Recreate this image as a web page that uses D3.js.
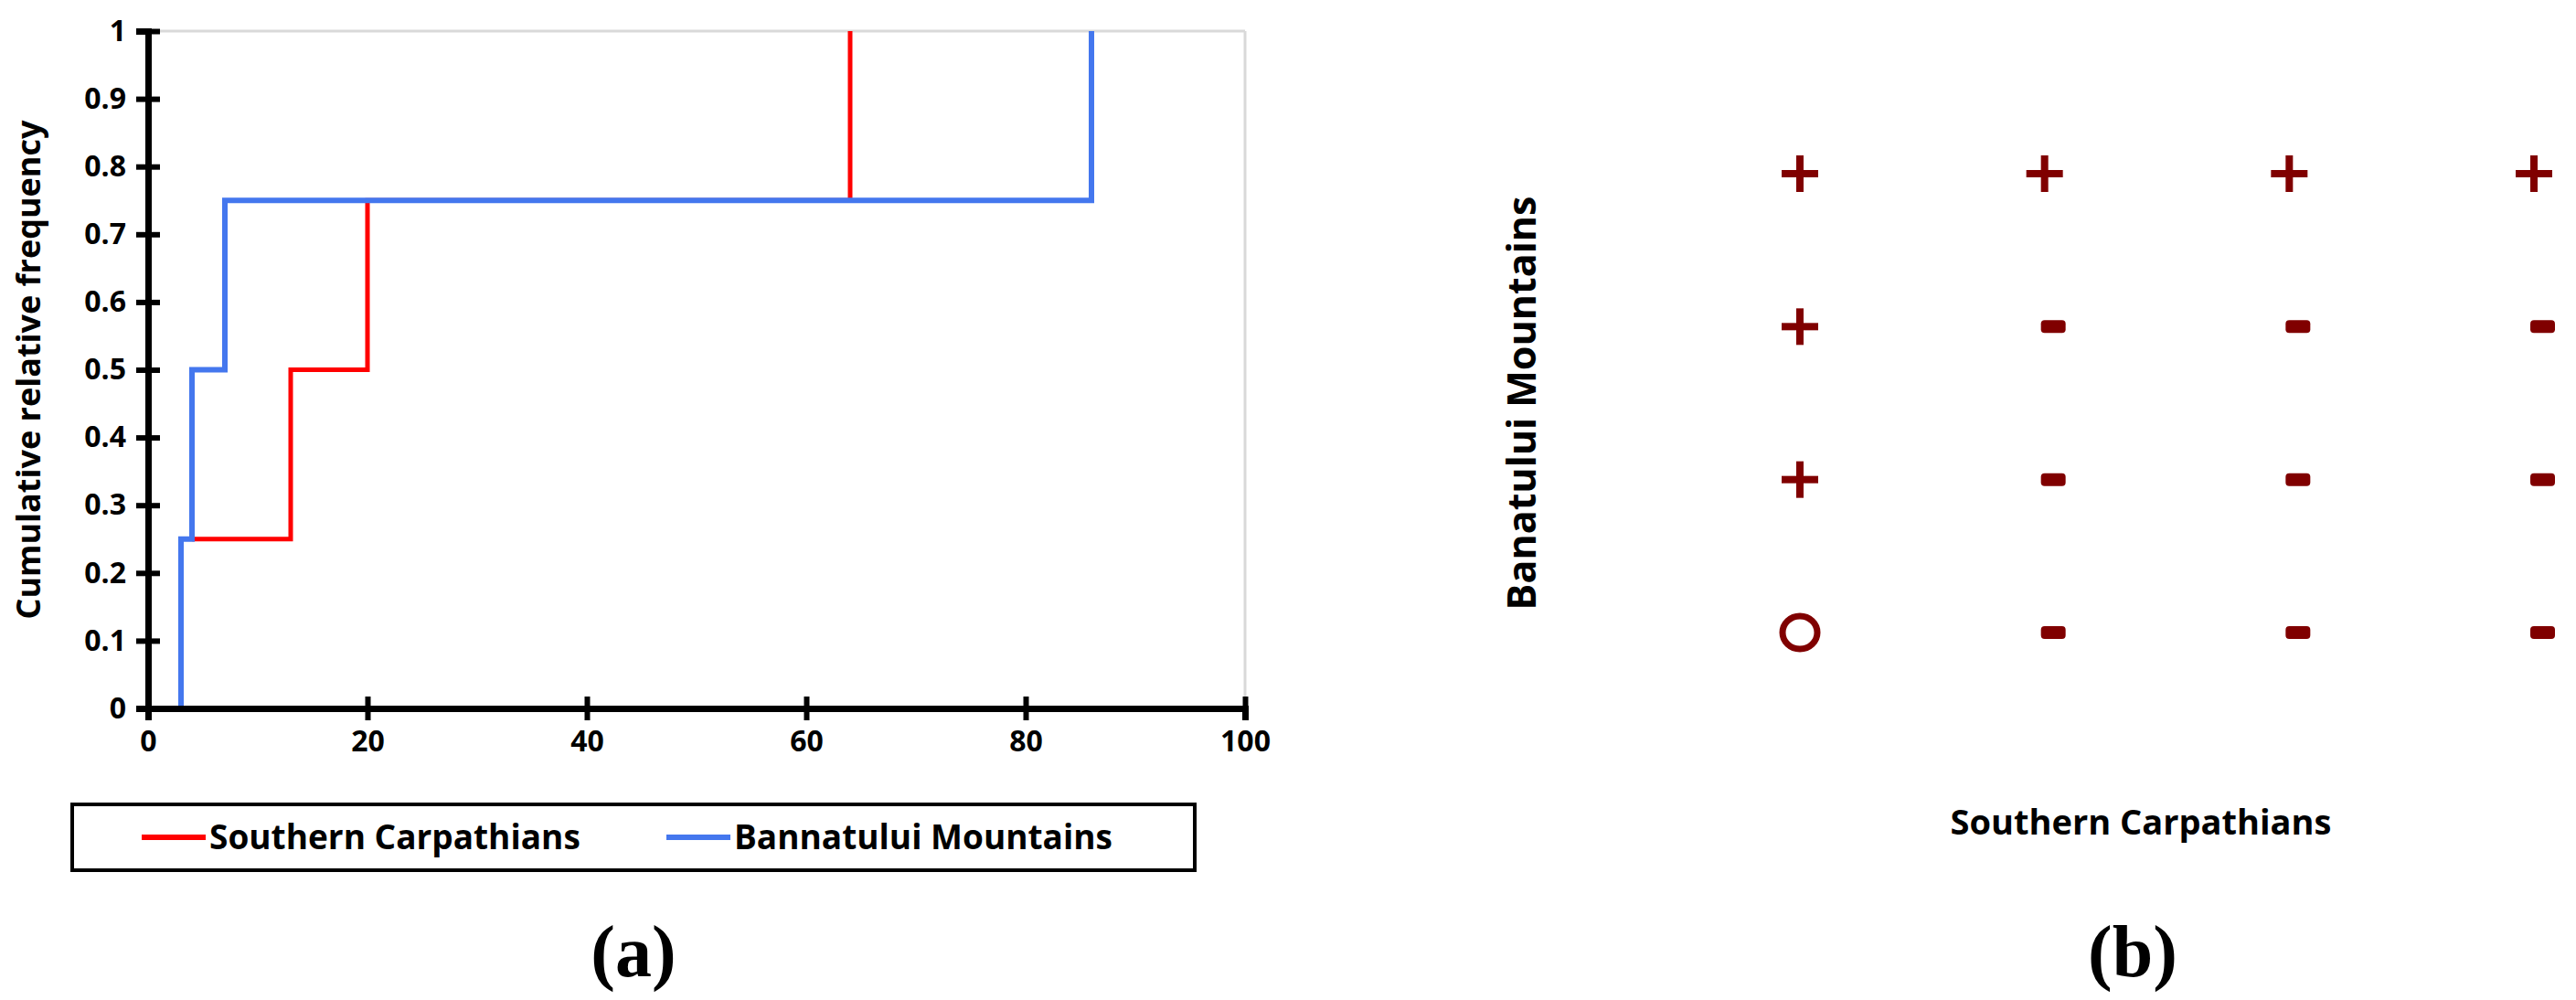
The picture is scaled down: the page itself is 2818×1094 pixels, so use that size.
<!DOCTYPE html>
<html><head><meta charset="utf-8">
<script src="https://cdn.jsdelivr.net/npm/d3@7"></script>
<style>body{margin:0;background:#fff}</style>
</head><body>
<script>
const W = 2818, H = 1094
const FONT = '"Open Sans",sans-serif'
const RED = '#ff0000', BLUE = '#4477ee', MARK = '#800000'

// panel (a) data
const xTicks = [0, 20, 40, 60, 80, 100]
const yTicks = [0, 0.1, 0.2, 0.3, 0.4, 0.5, 0.6, 0.7, 0.8, 0.9, 1]
const southernX = [4, 13, 20, 64]
const southernY = [0.25, 0.5, 0.75, 1]
const banatX = [3, 3, 4, 7, 86]
const banatY = [0, 0.25, 0.5, 0.75, 1]
const seriesNames = ['Southern Carpathians', 'Bannatului Mountains']

// panel (b) data
const gridCols = [1, 2, 3, 4]
const gridRows = [4, 3, 2, 1]
const signs = [
  ['+', '+', '+', '+'],
  ['+', '-', '-', '-'],
  ['+', '-', '-', '-'],
  ['o', '-', '-', '-']
]

const svg = d3.select('body').append('svg').attr('width', W).attr('height', H)

// ---- panel (a)
const x = d3.scaleLinear().domain([0, 100]).range([162, 1362])
const y = d3.scaleLinear().domain([0, 1]).range([775, 34])

svg.append('line').attr('x1', x(0)).attr('x2', x(100)).attr('y1', y(1)).attr('y2', y(1))
  .attr('stroke', '#d9d9d9').attr('stroke-width', 3)
svg.append('line').attr('x1', x(100)).attr('x2', x(100)).attr('y1', y(0)).attr('y2', y(1))
  .attr('stroke', '#d9d9d9').attr('stroke-width', 3)

const line = d3.line().x(d => x(d[0])).y(d => y(d[1])).curve(d3.curveStepAfter)
svg.append('path').datum(d3.zip(southernX, southernY)).attr('d', line)
  .attr('fill', 'none').attr('stroke', RED).attr('stroke-width', 5)
svg.append('path').datum(d3.zip(banatX, banatY)).attr('d', line)
  .attr('fill', 'none').attr('stroke', BLUE).attr('stroke-width', 6)

const yAxis = svg.append('g').attr('transform', `translate(${x(0)},0)`)
  .call(d3.axisLeft(y).tickValues(yTicks).tickFormat(d => d).tickSize(13))
const xAxis = svg.append('g').attr('transform', `translate(0,${y(0)})`)
  .call(d3.axisBottom(x).tickValues(xTicks).tickSize(13))
;[yAxis, xAxis].forEach(g => {
  g.select('.domain').attr('stroke', '#000').attr('stroke-width', 7)
  g.selectAll('.tick line').attr('stroke', '#000').attr('stroke-width', 6)
  g.selectAll('text').attr('font-family', FONT).attr('font-weight', 'bold')
    .attr('font-size', 32).attr('fill', '#000')
})
yAxis.selectAll('.tick line').attr('x1', 13)
yAxis.selectAll('text').attr('x', -24)
xAxis.selectAll('.tick line').attr('y1', -13)
xAxis.selectAll('text').attr('y', 24)

svg.append('text').attr('transform', `translate(44,${y(0.5)}) rotate(-90)`)
  .attr('text-anchor', 'middle').attr('font-family', FONT).attr('font-weight', 'bold')
  .attr('font-size', 36).text('Cumulative relative frequency')

// legend
svg.append('rect').attr('x', 79).attr('y', 880).attr('width', 1228).attr('height', 72)
  .attr('fill', 'none').attr('stroke', '#000').attr('stroke-width', 4)
const legX = [155, 729]
seriesNames.forEach((n, i) => {
  svg.append('line').attr('x1', legX[i]).attr('x2', legX[i] + 70).attr('y1', 916).attr('y2', 916)
    .attr('stroke', [RED, BLUE][i]).attr('stroke-width', 6)
  svg.append('text').attr('x', legX[i] + 74).attr('y', 929).attr('font-family', FONT)
    .attr('font-weight', 'bold').attr('font-size', 37).text(n)
})

svg.append('text').attr('x', 693).attr('y', 1068).attr('text-anchor', 'middle')
  .attr('font-family', '"Liberation Serif",serif').attr('font-weight', 'bold')
  .attr('font-size', 80).text('(a)')

// ---- panel (b)
const cx = d3.scalePoint().domain(gridCols).range([1969, 2772])
const cy = d3.scalePoint().domain(gridRows).range([190, 692])

signs.forEach((row, ri) => row.forEach((s, ci) => {
  const px = cx(gridCols[ci]), py = cy(gridRows[ri])
  const g = svg.append('g').attr('transform', `translate(${px},${py})`)
  if (s === '+') {
    g.append('rect').attr('x', -20).attr('y', -4).attr('width', 40).attr('height', 8).attr('fill', MARK)
    g.append('rect').attr('x', -4).attr('y', -20).attr('width', 8).attr('height', 40).attr('fill', MARK)
  } else if (s === '-') {
    g.append('rect').attr('x', -4).attr('y', -7).attr('width', 27).attr('height', 14)
      .attr('rx', 4).attr('fill', MARK)
  } else {
    g.append('ellipse').attr('rx', 19).attr('ry', 18).attr('fill', 'none')
      .attr('stroke', MARK).attr('stroke-width', 7)
  }
}))

svg.append('text').attr('transform', 'translate(1680,441) rotate(-90)')
  .attr('text-anchor', 'middle').attr('font-family', FONT).attr('font-weight', 'bold')
  .attr('font-size', 43).text('Banatului Mountains')
svg.append('text').attr('x', 2342).attr('y', 913).attr('text-anchor', 'middle')
  .attr('font-family', FONT).attr('font-weight', 'bold').attr('font-size', 38).text('Southern Carpathians')
svg.append('text').attr('x', 2333).attr('y', 1068).attr('text-anchor', 'middle')
  .attr('font-family', '"Liberation Serif",serif').attr('font-weight', 'bold')
  .attr('font-size', 80).text('(b)')
</script>
</body></html>
